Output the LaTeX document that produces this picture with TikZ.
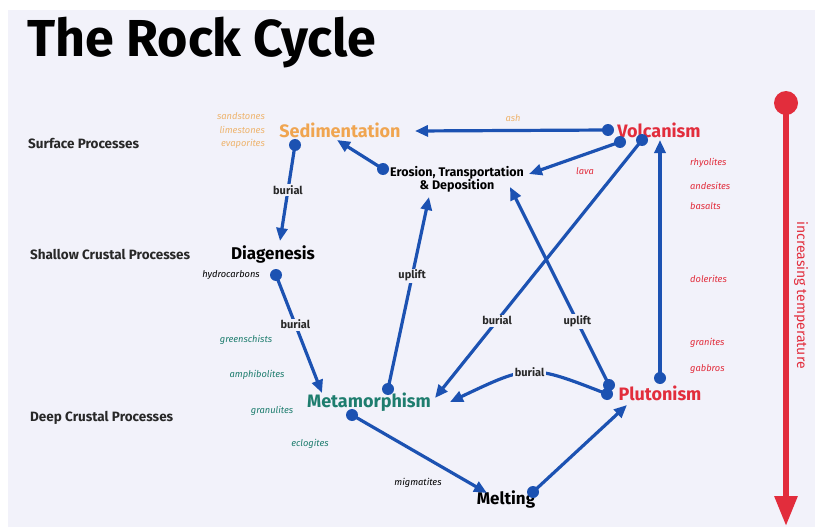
\documentclass[tikz,border=0pt]{standalone}
\usepackage{fontspec}
\setmainfont{Fira Sans}
\usetikzlibrary{arrows.meta}
\definecolor{bg}{RGB}{242,242,250}
\definecolor{cblue}{RGB}{28,82,178}
\definecolor{corange}{RGB}{240,165,80}
\definecolor{corlight}{RGB}{238,180,110}
\definecolor{cred}{RGB}{226,45,60}
\definecolor{cteal}{RGB}{30,125,110}
\definecolor{cgray}{RGB}{40,40,40}
\tikzset{
  stage/.style={inner sep=0pt, font=\fontsize{18}{18}\selectfont\bfseries},
  level/.style={inner sep=0pt, anchor=west, text=cgray, font=\fontsize{13.5}{13.5}\selectfont\bfseries},
  rock/.style={inner sep=0pt, font=\fontsize{9.3}{9.3}\selectfont\itshape},
  lbl/.style={inner sep=1.5pt, fill=bg, text=cgray, font=\fontsize{11}{11}\selectfont\bfseries},
  flow/.style={draw=cblue, line width=3.2pt, -{Triangle[length=13pt,width=11pt]}},
  blob/.style={circle, fill=cblue, inner sep=0pt, minimum size=12pt},
}
\begin{document}
\begin{tikzpicture}[x=1pt,y=-1pt]
\useasboundingbox (0,0) rectangle (815,527);
\fill[white] (0,0) rectangle (815,527);
\fill[bg] (8,10) rectangle (815,527);
% title
\node[anchor=base west, inner sep=0pt, font=\fontsize{52}{52}\selectfont\bfseries] (title) at (27,57) {The Rock Cycle};
% levels
\node[level] (surf) at (28,143) {Surface Processes};
\node[level] (shal) at (30,254) {Shallow Crustal Processes};
\node[level] (deep) at (30,418) {Deep Crustal Processes};
% stages
\node[stage, text=corange] (sed) at (340,130) {Sedimentation};
\node[stage, text=cred] (vol) at (659,130) {Volcanism};
\node[inner sep=0pt, align=center, font=\fontsize{12.5}{13}\selectfont\bfseries] (ero) at (457,179) {Erosion, Transportation\\\& Deposition};
\node[stage, text=black, font=\fontsize{17}{17}\selectfont\bfseries] (dia) at (273,254) {Diagenesis};
\node[stage, text=cteal] (met) at (369,402) {Metamorphism};
\node[stage, text=cred] (plu) at (660,393) {Plutonism};
\node[stage, text=black, font=\fontsize{17}{17}\selectfont\bfseries] (mel) at (506,499) {Melting};
% rock names
\node[rock, text=corlight, anchor=east] (r1) at (265,116) {sandstones};
\node[rock, text=corlight, anchor=east] (r2) at (265,130) {limestones};
\node[rock, text=corlight, anchor=east] (r3) at (265,144) {evaporites};
\node[rock, text=corlight] (ash) at (513,118) {ash};
\node[rock, text=cred] (lava) at (585,171) {lava};
\node[rock, text=cred, anchor=west] (r4) at (690,163) {rhyolites};
\node[rock, text=cred, anchor=west] (r5) at (690,186) {andesites};
\node[rock, text=cred, anchor=west] (r6) at (690,206) {basalts};
\node[rock, text=cred, anchor=west] (r7) at (690,279) {dolerites};
\node[rock, text=cred, anchor=west] (r8) at (690,343) {granites};
\node[rock, text=cred, anchor=west] (r9) at (690,369) {gabbros};
\node[rock, text=black] (hyd) at (231,275) {hydrocarbons};
\node[rock, text=cteal] (m1) at (246,340) {greenschists};
\node[rock, text=cteal] (m2) at (257,375) {amphibolites};
\node[rock, text=cteal] (m3) at (272,411) {granulites};
\node[rock, text=cteal] (m4) at (310,444) {eclogites};
\node[rock, text=black] (mig) at (418,483) {migmatites};
% connector end points
\coordinate (vA) at (608,130);  \coordinate (sE) at (415,131);
\coordinate (vB) at (620,142);  \coordinate (eE) at (529,174);
\coordinate (vC) at (642,140);  \coordinate (mE1) at (435,398);
\coordinate (pA) at (660,378);  \coordinate (vE) at (660,140);
\coordinate (pB) at (609,385);  \coordinate (eE2) at (510,187);
\coordinate (pC) at (607,394);  \coordinate (mE2) at (450,402);
\coordinate (mA) at (388,389);  \coordinate (eE3) at (429,197);
\coordinate (eA) at (383,169);  \coordinate (sE2) at (337,140);
\coordinate (sA) at (295,145);  \coordinate (dE) at (280,241);
\coordinate (dA) at (276,275);  \coordinate (mE3) at (322,393);
\coordinate (mB) at (352,415);  \coordinate (lE) at (487,493);
\coordinate (lA) at (533,492);  \coordinate (pE) at (627,405);
% connectors
\draw[flow] (vA) -- (sE);
\draw[flow] (vB) -- (eE);
\draw[flow] (vC) -- node[lbl, pos=0.7] (b3) {burial} (mE1);
\draw[flow] (pA) -- (vE);
\draw[flow] (pB) -- node[lbl, pos=0.32] (u2) {uplift} (eE2);
\draw[flow] (pC) .. controls (530,364) .. node[lbl, pos=0.5] (b4) {burial} (mE2);
\draw[flow] (mA) -- node[lbl, pos=0.59] (u1) {uplift} (eE3);
\draw[flow] (eA) -- (sE2);
\draw[flow] (sA) -- node[lbl, pos=0.47] (b1) {burial} (dE);
\draw[flow] (dA) -- node[lbl, pos=0.42] (b2) {burial} (mE3);
\draw[flow] (mB) -- (lE);
\draw[flow] (lA) -- (pE);
% dots
\foreach \p in {vA,vB,vC,pA,pB,pC,mA,eA,sA,dA,mB,lA} \node[blob] at (\p) {};
% temperature arrow
\coordinate (tS) at (786,103);
\coordinate (tE) at (786,526);
\draw[draw=cred, line width=6pt, -{Triangle[length=30pt,width=22pt]}] (tS) -- (tE);
\node[circle, fill=cred, inner sep=0pt, minimum size=24pt] (tdot) at (tS) {};
\node[inner sep=0pt, rotate=-90, text=cred, font=\fontsize{14}{14}\selectfont] (temp) at (801,295) {increasing temperature};
\end{tikzpicture}
\end{document}
